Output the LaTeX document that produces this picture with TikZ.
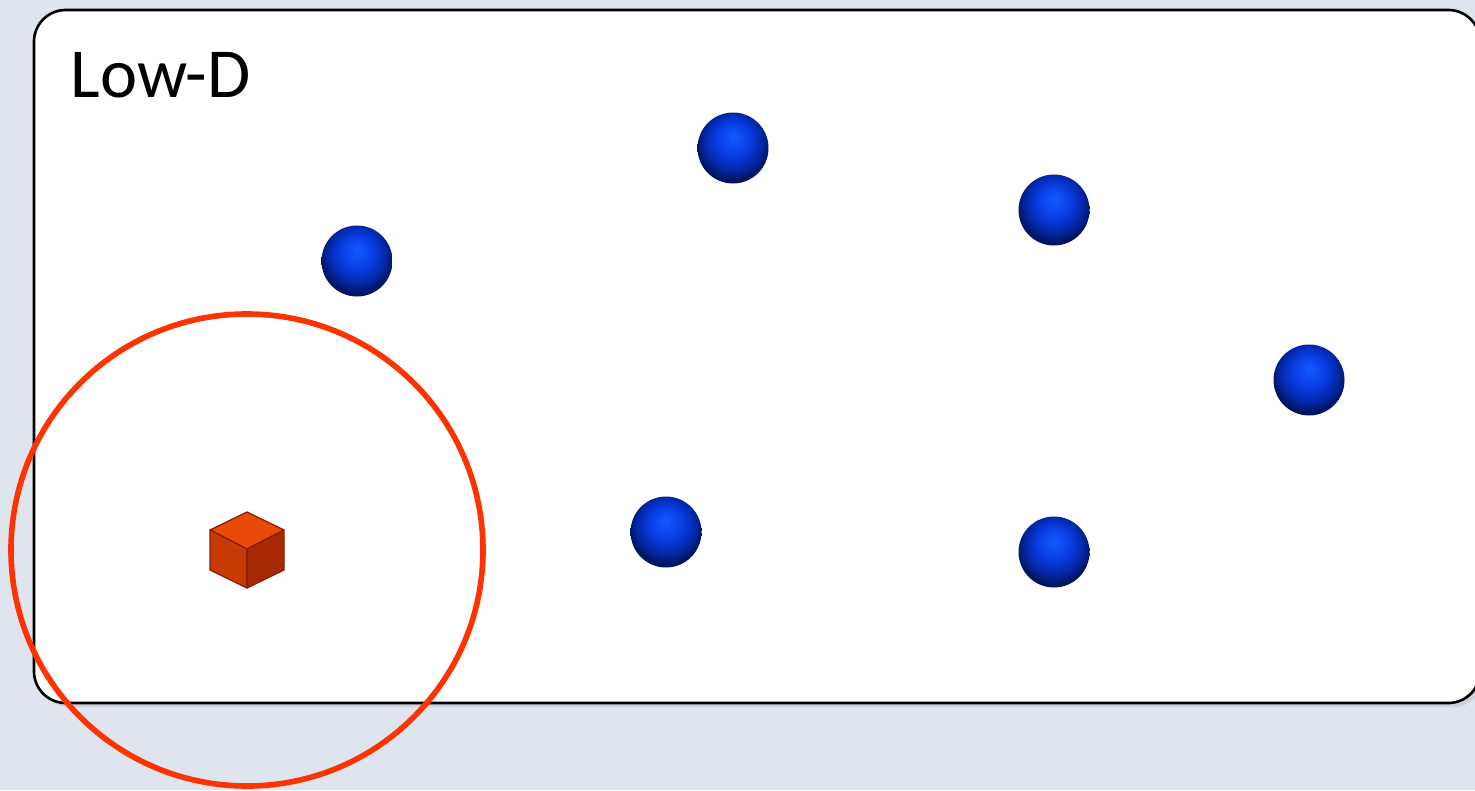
\documentclass[tikz,border=0pt]{standalone}
\usepackage{fontspec}
\setmainfont{Carlito}
\usepackage{xcolor}
\usetikzlibrary{positioning,shadows,calc}
\definecolor{paper}{HTML}{DFE5EE}
\definecolor{ring}{HTML}{FF3300}
\definecolor{cubetop}{HTML}{E84A0A}
\definecolor{cubeleft}{HTML}{C83A06}
\definecolor{cuberight}{HTML}{A82A04}
\definecolor{cubeedge}{HTML}{8A1C00}
\pgfdeclareradialshading{orbshade}{\pgfpoint{0bp}{8bp}}{%
  color(0bp)=(rgb,255:red,20;green,90;blue,255);
  color(12bp)=(rgb,255:red,8;green,60;blue,225);
  color(20bp)=(rgb,255:red,4;green,40;blue,170);
  color(26bp)=(rgb,255:red,0;green,22;blue,100);
  color(50bp)=(rgb,255:red,0;green,22;blue,100)}
\tikzset{
  panel/.style  ={rounded corners=9pt, draw=black, fill=white, line width=0.75pt,
                  drop shadow={opacity=0.18,shadow xshift=1.2pt,shadow yshift=-1.2pt}},
  orbnode/.style={circle, minimum size=0.71cm, inner sep=0pt, shading=orbshade},
  hood/.style   ={circle, draw=ring, line width=1.6pt, minimum size=4.72cm, inner sep=0pt},
  face/.style   ={draw=cubeedge, line width=0.35pt, line join=round, fill=#1},
  paneltitle/.style={font=\fontsize{20}{24}\selectfont, anchor=base west, inner sep=0pt},
}
\begin{document}
\begin{tikzpicture}
\fill[paper] (0,0) rectangle (14.75,7.90);
\useasboundingbox (0,0) rectangle (14.75,7.90);
\path[panel] (0.34,0.87) rectangle (14.80,7.80);
\node[paneltitle] (title) at (0.70,6.93) {Low-D};

% data points
\node[orbnode] (p1) at (3.57,5.29) {};
\node[orbnode] (p2) at (7.33,6.42) {};
\node[orbnode] (p3) at (10.54,5.80) {};
\node[orbnode] (p4) at (13.09,4.10) {};
\node[orbnode] (p5) at (6.66,2.58) {};
\node[orbnode] (p6) at (10.54,2.38) {};

% query cube
\coordinate (q) at (2.47,2.40);
\draw[face=cubetop]   ($(q)+(0,0.38)$) -- ($(q)+(0.37,0.20)$) -- ($(q)+(0,0.01)$) -- ($(q)+(-0.37,0.20)$) -- cycle;
\draw[face=cubeleft]  ($(q)+(-0.37,0.20)$) -- ($(q)+(0,0.01)$) -- ($(q)+(0,-0.38)$) -- ($(q)+(-0.37,-0.20)$) -- cycle;
\draw[face=cuberight] ($(q)+(0.37,0.20)$) -- ($(q)+(0,0.01)$) -- ($(q)+(0,-0.38)$) -- ($(q)+(0.37,-0.20)$) -- cycle;

\node[hood] (nbhd) at (q) {};
\end{tikzpicture}
\end{document}
